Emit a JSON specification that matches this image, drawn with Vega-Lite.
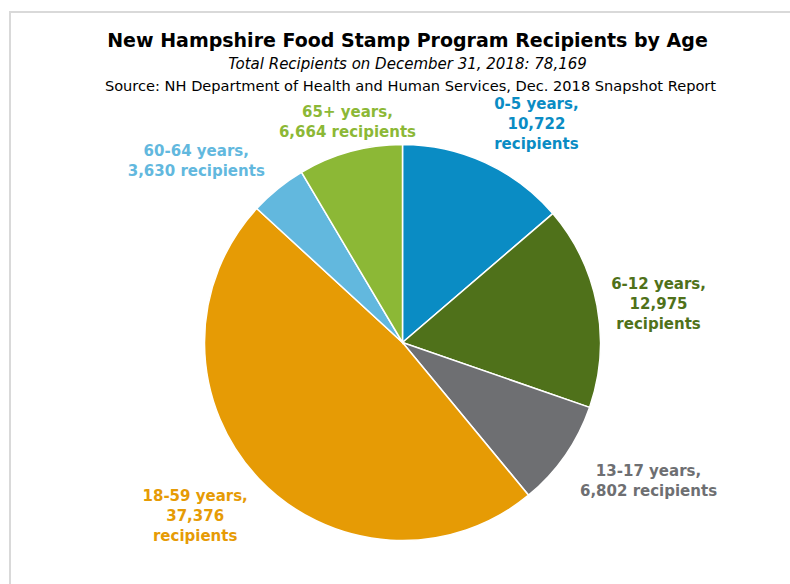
{
  "$schema": "https://vega.github.io/schema/vega-lite/v6.json",
  "background": "white",
  "padding": {"left": 9, "top": 11, "right": 0, "bottom": 0},
  "config": {
    "view": {"stroke": "#d9d9d9", "strokeWidth": 2},
    "font": "DejaVu Sans"
  },
  "title": {
    "text": "New Hampshire Food Stamp Program Recipients by Age",
    "subtitle": "Total Recipients on December 31, 2018: 78,169",
    "anchor": "middle",
    "font": "DejaVu Sans",
    "fontSize": 19,
    "fontWeight": "bold",
    "color": "black",
    "subtitleFont": "DejaVu Sans",
    "subtitleFontSize": 15,
    "subtitleFontStyle": "italic",
    "subtitleColor": "black",
    "subtitlePadding": 6,
    "offset": -61,
    "dx": 5
  },
  "vconcat": [
    {
      "title": {
        "text": "Source: NH Department of Health and Human Services, Dec. 2018 Snapshot Report",
        "font": "DejaVu Sans",
        "fontSize": 14.6,
        "fontWeight": "normal",
        "color": "black",
        "anchor": "middle",
        "offset": -82,
        "dx": 8
      },
      "view": {"stroke": "#d9d9d9", "strokeWidth": 2},
      "width": 785,
      "height": 661,
      "data": {
        "values": [
          {"age": "0-5 years", "count": 10722, "rank": 1, "label": "0-5 years,\n10,722\nrecipients"},
          {"age": "6-12 years", "count": 12975, "rank": 2, "label": "6-12 years,\n12,975\nrecipients"},
          {"age": "13-17 years", "count": 6802, "rank": 3, "label": "13-17 years,\n6,802 recipients"},
          {"age": "18-59 years", "count": 37376, "rank": 4, "label": "18-59 years,\n37,376\nrecipients"},
          {"age": "60-64 years", "count": 3630, "rank": 5, "label": "60-64 years,\n3,630 recipients"},
          {"age": "65+ years", "count": 6664, "rank": 6, "label": "65+ years,\n6,664 recipients"}
        ]
      },
      "encoding": {
        "theta": {"field": "count", "type": "quantitative", "stack": true},
        "order": {"field": "rank", "type": "quantitative"},
        "color": {
          "field": "age",
          "type": "nominal",
          "scale": {
            "domain": ["0-5 years", "6-12 years", "13-17 years", "18-59 years", "60-64 years", "65+ years"],
            "range": ["#0A8CC4", "#4F711A", "#6E6F72", "#E69B05", "#62B8DE", "#8CB836"]
          },
          "legend": null
        }
      },
      "layer": [
        {
          "mark": {"type": "arc", "outerRadius": 198, "stroke": "white", "strokeWidth": 1.5}
        },
        {
          "transform": [
            {"joinaggregate": [{"op": "sum", "field": "count", "as": "total"}]}
          ],
          "mark": {
            "type": "text",
            "radius": 208,
            "fontSize": 15,
            "fontWeight": "bold",
            "lineBreak": "\n",
            "lineHeight": 20,
            "align": "center",
            "baseline": "middle",
            "dy": {"expr": "cos(PI*(datum.count_start+datum.count_end)/datum.total) > 0.5 ? (-(length(split(datum.label,'\\n'))-1)*20 - 10) : (cos(PI*(datum.count_start+datum.count_end)/datum.total) < -0.5 ? 10 : -(length(split(datum.label,'\\n'))-1)*10)"},
            "dx": {"expr": "(sin(PI*(datum.count_start+datum.count_end)/datum.total) > 0.35 ? 1 : (sin(PI*(datum.count_start+datum.count_end)/datum.total) < -0.35 ? -1 : 0)) * 4.7 * max(length(split(datum.label,'\\n')[0]), length(split(datum.label,'\\n')[1] || ''), length(split(datum.label,'\\n')[2] || ''))"}
          },
          "encoding": {
            "text": {"field": "label", "type": "nominal"}
          }
        }
      ]
    }
  ]
}
